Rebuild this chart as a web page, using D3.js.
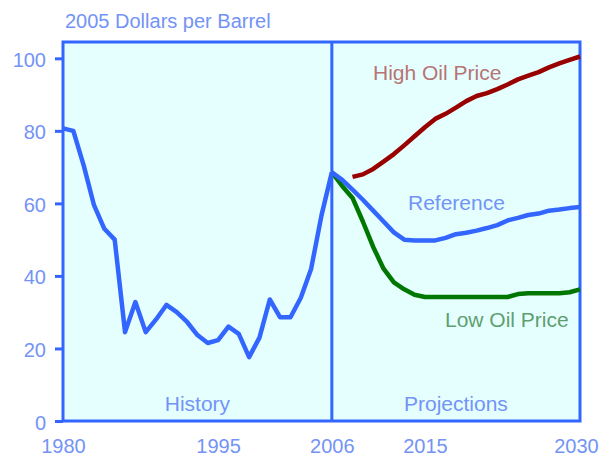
<!DOCTYPE html>
<html>
<head>
<meta charset="utf-8">
<script src="https://cdn.jsdelivr.net/npm/d3@7"></script>
<style>
  body { margin: 0; background: #fff; }
  text { font-family: "Liberation Sans", Arial, sans-serif; }
</style>
</head>
<body>
<div id="chart"></div>
<script>
// history, 2005 dollars per barrel
let histYears = d3.range(1980, 2007);
let histValues = [80.7, 80, 70.5, 59.5, 53, 50, 24.5, 32.8, 24.5, 28, 32, 30, 27.3, 23.7, 21.5, 22.3,
    26, 24, 17.6, 23, 33.5, 28.6, 28.6, 34, 42, 56.7, 68.6];

// projections
let projYears = d3.range(2006, 2031);
let refValues = [68.6, 66.5, 63.8, 61, 58, 55, 52, 50, 49.8, 49.8, 49.8, 50.5, 51.5, 51.9, 52.5, 53.2,
    54, 55.3, 56, 56.8, 57.2, 58, 58.3, 58.7, 59];
let lowValues = [68.6, 64.8, 61.5, 55, 48, 42, 38.2, 36.3, 34.8, 34.2, 34.2, 34.2, 34.2, 34.2, 34.2, 34.2,
    34.2, 34.2, 35, 35.2, 35.2, 35.2, 35.2, 35.5, 36.3];
let highYears = d3.range(2008, 2031);
let highValues = [67.3, 68, 69.5, 71.5, 73.6, 76, 78.5, 81, 83.3, 84.7, 86.4, 88.2, 89.6, 90.4, 91.5,
    92.8, 94.2, 95.2, 96.2, 97.5, 98.6, 99.6, 100.5];

let xTicks = [1980, 1995, 2006, 2015, 2030];
let yTicks = [0, 20, 40, 60, 80, 100];

let blue = '#3366ff';
let labelBlue = '#7393f6';

let svg = d3.select('#chart')
    .append('svg')
    .attr('width', 600)
    .attr('height', 456);

let x = d3.scaleLinear().domain([1980, 2030]).range([63, 580]);
let y = d3.scaleLinear().domain([0, 104.5]).range([421, 42]);

// plot background + frame
svg.append('rect')
    .attr('x', x(1980))
    .attr('y', y(104.5))
    .attr('width', x(2030) - x(1980))
    .attr('height', y(0) - y(104.5))
    .style('fill', '#e5ffff')
    .style('stroke', blue)
    .style('stroke-width', 3);

// history / projections divider
svg.append('line')
    .attr('x1', x(2006)).attr('x2', x(2006))
    .attr('y1', y(104.5)).attr('y2', y(0))
    .style('stroke', blue)
    .style('stroke-width', 3);

// y axis
let yAxis = svg.append('g')
    .attr('transform', 'translate(' + x(1980) + ',0)')
    .call(d3.axisLeft(y).tickValues(yTicks).tickSize(8).tickPadding(9));
yAxis.select('.domain').remove();
yAxis.selectAll('line').style('stroke', blue).style('stroke-width', 3);
yAxis.selectAll('text')
    .attr('dy', null)
    .attr('y', 8)
    .style('font-size', '20px')
    .style('font-family', '"Liberation Sans", Arial, sans-serif')
    .style('fill', labelBlue);

// x axis
let xAxis = svg.append('g')
    .attr('transform', 'translate(0,' + y(0) + ')')
    .call(d3.axisBottom(x).tickValues(xTicks).tickFormat(d3.format('d')).tickSize(0).tickPadding(0));
xAxis.select('.domain').remove();
xAxis.selectAll('text')
    .attr('dy', null)
    .attr('y', 32)
    .attr('dx', function (d) { return d == 2030 ? -4 : null; })
    .style('font-size', '20px')
    .style('font-family', '"Liberation Sans", Arial, sans-serif')
    .style('fill', labelBlue);

// lines
let line = d3.line()
    .x(function (d) { return x(d[0]); })
    .y(function (d) { return y(d[1]); });

function drawSeries(years, values, color) {
    svg.append('path')
        .datum(d3.zip(years, values))
        .attr('d', line)
        .style('fill', 'none')
        .style('stroke', color)
        .style('stroke-width', 4.5)
        .style('stroke-linejoin', 'round');
}

drawSeries(projYears, lowValues, '#007700');
drawSeries(highYears, highValues, '#990000');
drawSeries(histYears, histValues, blue);
drawSeries(projYears, refValues, blue);

// labels
function label(txt, px, py, color, anchor) {
    svg.append('text')
        .attr('x', px)
        .attr('y', py)
        .attr('text-anchor', anchor)
        .style('font-size', '21px')
        .style('fill', color)
        .text(txt);
}

svg.append('text')
    .attr('x', 65)
    .attr('y', 28)
    .style('font-size', '20px')
    .style('fill', labelBlue)
    .text('2005 Dollars per Barrel');

label('High Oil Price', 373, 80, '#b87474', 'start');
label('Reference', 408, 210, labelBlue, 'start');
label('Low Oil Price', 445, 327, '#5f9f6f', 'start');
label('History', (x(1980) + x(2006)) / 2, 411, labelBlue, 'middle');
label('Projections', (x(2006) + x(2030)) / 2, 411, labelBlue, 'middle');
</script>
</body>
</html>
